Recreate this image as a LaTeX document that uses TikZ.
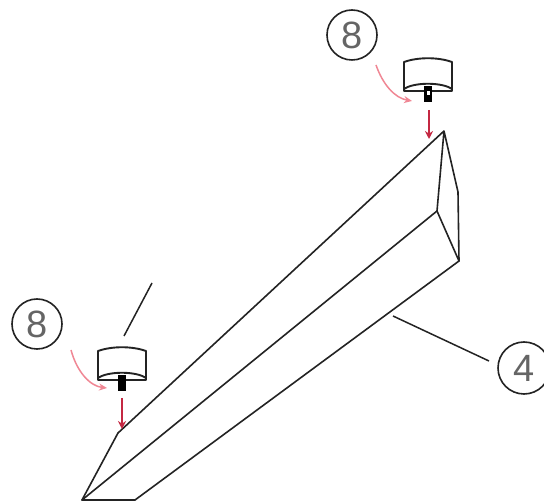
\documentclass[tikz,border=0pt]{standalone}
\usepackage{fontspec}
\setmainfont{Liberation Sans}
\usetikzlibrary{arrows.meta}
\definecolor{pinkarrow}{RGB}{240,135,148}
\definecolor{redarrow}{RGB}{196,40,66}
\definecolor{ink}{RGB}{35,35,35}
\tikzset{
  x=1pt,y=-1pt,
  edge/.style={draw=ink,line width=1.6pt,line join=round,line cap=round},
  leader/.style={draw=ink,line width=1.5pt},
  callout/.style={circle,draw=ink,line width=1.6pt,minimum size=50pt,inner sep=0pt,text=ink!70,font=\fontsize{38}{38}\selectfont},
  drop/.style={draw=redarrow,line width=1.7pt,-{Stealth[length=8pt,width=8pt]}},
  swing/.style={draw=pinkarrow,line width=1.5pt,-{Stealth[length=8pt,width=7pt]}},
}
\newcommand{\fixing}[2]{%
  \begin{scope}[shift={(#1,#2)}]
    \draw[edge,line width=1.9pt,fill=white] (-24,-27) .. controls (-10,-32) and (10,-32) .. (24,-27) -- (24,2) -- (-24,2) -- cycle;
    \draw[edge,line width=1.9pt] (-24,0) .. controls (-14,-7) and (14,-7) .. (24,0);
    \fill[black] (-4,-3) rectangle (4,13);
  \end{scope}}
\begin{document}
\begin{tikzpicture}
\useasboundingbox (0,0) rectangle (544,502);
\fill[white] (0,0) rectangle (544,502);
% beam
\coordinate (a) at (444,131);
\coordinate (b) at (437,211);
\coordinate (c) at (459,261);
\coordinate (d) at (458,192);
\coordinate (e) at (118,433);
\coordinate (f) at (82,500);
\coordinate (g) at (135,500);
\draw[edge] (e) -- (a) -- (b) -- (c) -- (d) -- (a);
\draw[edge] (f) -- (b);
\draw[edge] (g) -- (c);
\draw[edge] (e) -- (f) -- (g);
% fixings
\fixing{428}{89}
\fill[white] (426.5,91) rectangle (430,95);
\fixing{122}{378}
% red arrows
\coordinate (r1s) at (429,110);
\coordinate (r1e) at (429,139);
\coordinate (r2s) at (122,398);
\coordinate (r2e) at (122,429);
\draw[drop] (r1s) -- (r1e);
\draw[drop] (r2s) -- (r2e);
% callouts
\node[callout] (t8) at (352,35) {8};
\node[callout] (l8) at (37,324) {8};
\node[callout,minimum size=52pt] (c4) at (524,368) {4};
% pink arrows
\coordinate (p1s) at (376,65);
\coordinate (p1e) at (412,101);
\coordinate (p2s) at (71,350);
\coordinate (p2e) at (107,388);
\draw[swing] (p1s) .. controls (383,85) and (395,98) .. (p1e);
\draw[swing] (p2s) .. controls (77,372) and (90,386) .. (p2e);
% leaders
\coordinate (l1s) at (152,283);
\coordinate (l1e) at (124,336);
\coordinate (l2s) at (393,316);
\coordinate (l2e) at (489,361);
\draw[leader] (l1s) -- (l1e);
\draw[leader] (l2s) -- (l2e);
\end{tikzpicture}
\end{document}
